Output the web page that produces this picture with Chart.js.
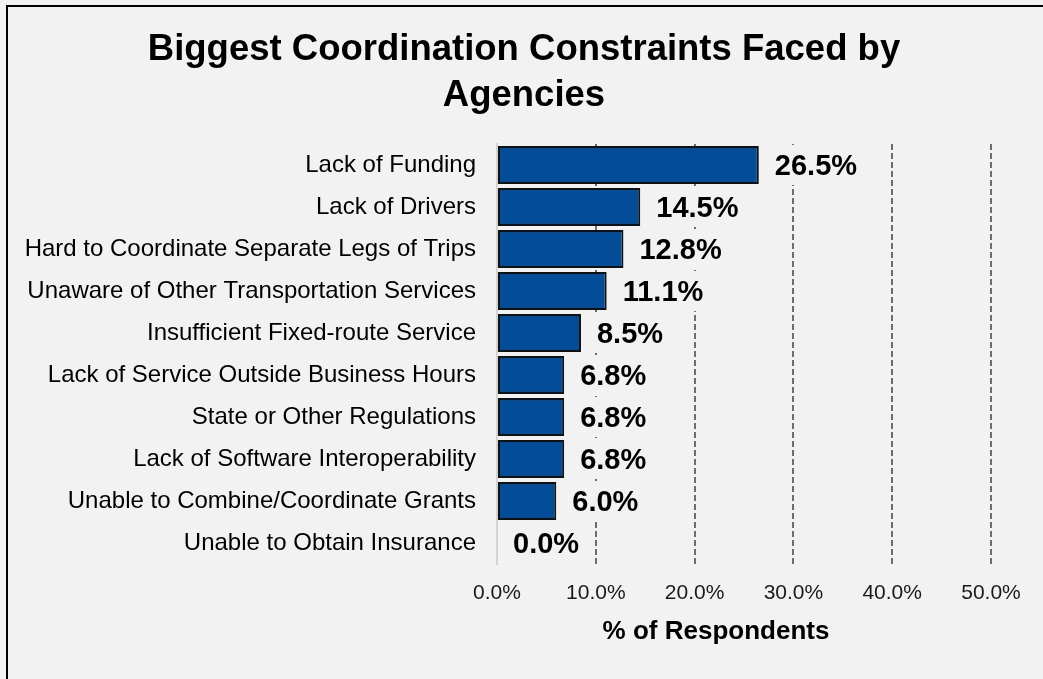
<!DOCTYPE html>
<html lang="en">
<head>
    <meta charset="UTF-8">
    <title>Biggest Coordination Constraints Faced by Agencies</title>
    <script src="https://cdn.jsdelivr.net/npm/chart.js@4.4.1/dist/chart.umd.min.js"></script>
    <style>
        html, body { margin: 0; padding: 0; background: #f2f2f2; overflow: hidden; }
        #frame { position: absolute; left: 6px; top: 5px; width: 1100px; height: 700px;
                 border-left: 2px solid #000; border-top: 2px solid #000; }
        #wrap { position: absolute; left: 0; top: 0; width: 1043px; height: 679px; }
    </style>
</head>
<body>
    <div id="frame"></div>
    <div id="wrap"><canvas id="myChart" width="1043" height="679"></canvas></div>

    <script>
        // survey answers, sorted largest first
        const categories = [
            "Lack of Funding",
            "Lack of Drivers",
            "Hard to Coordinate Separate Legs of Trips",
            "Unaware of Other Transportation Services",
            "Insufficient Fixed-route Service",
            "Lack of Service Outside Business Hours",
            "State or Other Regulations",
            "Lack of Software Interoperability",
            "Unable to Combine/Coordinate Grants",
            "Unable to Obtain Insurance"
        ];
        const percentValues = [26.5, 14.5, 12.8, 11.1, 8.5, 6.8, 6.8, 6.8, 6.0, 0.0];
        const xTicks = [0, 10, 20, 30, 40, 50];

        const chartTitle = ["Biggest Coordination Constraints Faced by", "Agencies"];
        const xTitle = "% of Respondents";

        const FONT = "'Liberation Sans', Arial, sans-serif";

        // value labels next to each bar, with a box in the page colour so the
        // dashed grid lines stop around the text
        const valueLabels = {
            id: "valueLabels",
            afterDatasetsDraw(chart) {
                const ctx = chart.ctx;
                const meta = chart.getDatasetMeta(0);
                ctx.save();
                ctx.font = "bold 29px " + FONT;
                ctx.textBaseline = "middle";
                ctx.textAlign = "left";
                meta.data.forEach((bar, i) => {
                    const txt = percentValues[i].toFixed(1) + "%";
                    const w = ctx.measureText(txt).width;
                    const x = bar.x + 16;
                    ctx.fillStyle = "#f2f2f2";
                    ctx.fillRect(x - 4, bar.y - 20, w + 8, 40);
                    ctx.fillStyle = "#000";
                    ctx.fillText(txt, x, bar.y + 2);
                });
                ctx.restore();
            }
        };

        // chart title (centred a bit right of the plot) and x axis title
        const titles = {
            id: "titles",
            afterDraw(chart) {
                const ctx = chart.ctx;
                ctx.save();
                ctx.fillStyle = "#000";
                ctx.textAlign = "center";
                ctx.textBaseline = "middle";
                ctx.font = "bold 36.5px " + FONT;
                chartTitle.forEach((line, i) => ctx.fillText(line, 524, 49.5 + i * 46.7));
                ctx.font = "bold 26px " + FONT;
                ctx.fillText(xTitle, 716, 632);
                ctx.restore();
            }
        };

        new Chart("myChart", {
            type: "bar",
            data: {
                labels: categories,
                datasets: [{
                    data: percentValues,
                    backgroundColor: "#034c98",
                    borderColor: "#111",
                    borderWidth: 2,
                    borderSkipped: false,
                    barPercentage: 0.9,
                    categoryPercentage: 1.0
                }]
            },
            options: {
                indexAxis: "y",
                responsive: false,
                animation: false,
                layout: { padding: { left: 0, right: 52, top: 144, bottom: 0 } },
                plugins: {
                    legend: { display: false },
                    tooltip: { enabled: false }
                },
                scales: {
                    x: {
                        min: 0,
                        max: 50,
                        afterBuildTicks: (scale) => { scale.ticks = xTicks.map(v => ({ value: v })); },
                        afterFit: (scale) => { scale.height = 115; },
                        ticks: {
                            color: "#1a1a1a",
                            padding: 17,
                            maxRotation: 0,
                            font: { family: FONT, size: 21 },
                            callback: (v) => v.toFixed(1) + "%"
                        },
                        grid: {
                            drawTicks: false,
                            lineWidth: 2,
                            color: (c) => c.index === 0 ? "rgba(0,0,0,0)" : "#6d6d6d"
                        },
                        border: { display: false, dash: [6, 3] }
                    },
                    y: {
                        afterFit: (scale) => { scale.width = 497; },
                        ticks: {
                            color: "#000",
                            padding: 21,
                            font: { family: FONT, size: 24 }
                        },
                        grid: { display: false, drawTicks: false },
                        border: { display: true, color: "#d4d4d4", width: 2 }
                    }
                }
            },
            plugins: [valueLabels, titles]
        });
    </script>
</body>
</html>
